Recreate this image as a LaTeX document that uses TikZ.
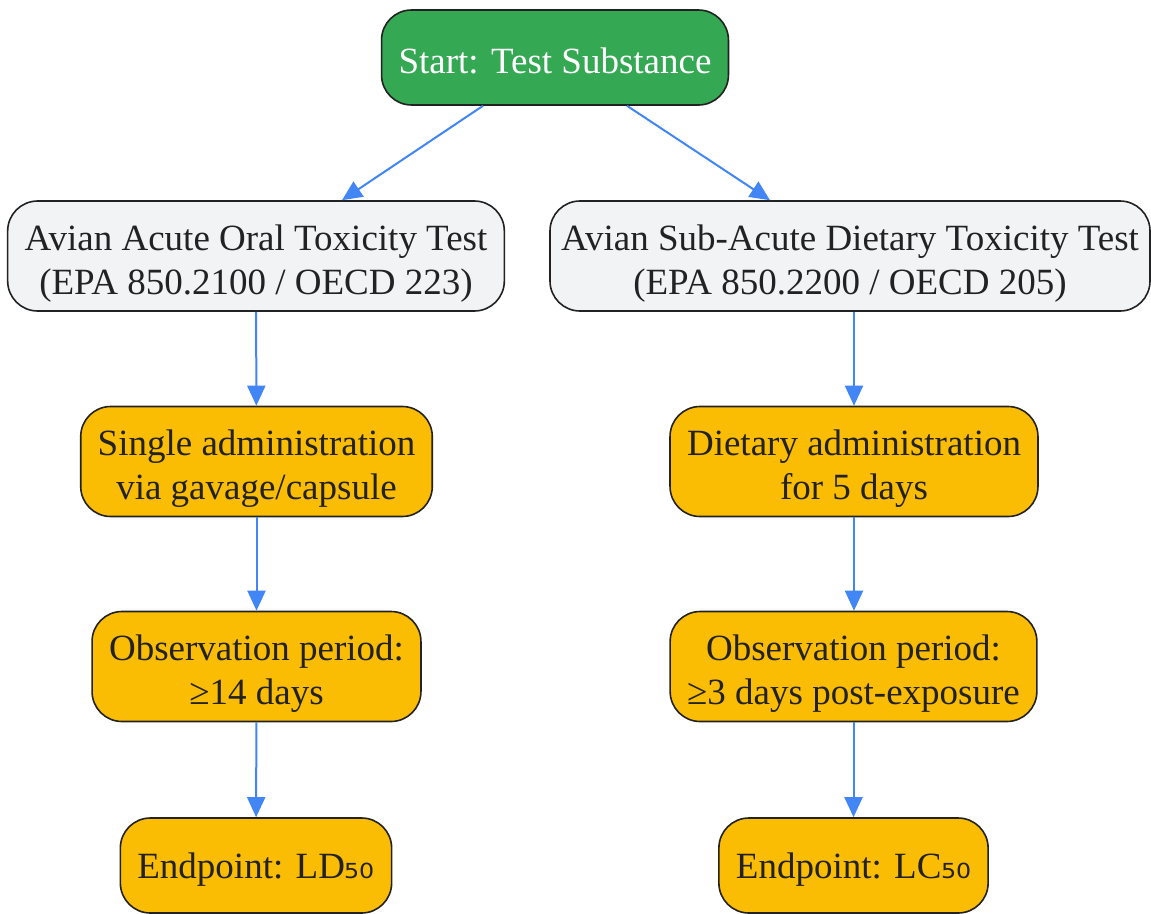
\documentclass[tikz,border=0pt]{standalone}
\usepackage{fontspec}
\setmainfont{Liberation Serif}
\newfontfamily\subfont{DejaVu Sans}
\usetikzlibrary{arrows.meta}
\definecolor{startgreen}{HTML}{34A853}
\definecolor{testgray}{HTML}{F1F3F4}
\definecolor{stepyellow}{HTML}{FBBC04}
\definecolor{arrowblue}{HTML}{4285F4}
\definecolor{textdark}{HTML}{222222}
\newcommand\lowtwo{\rule{0pt}{40pt}}
\newcommand\lowone{\rule{0pt}{33pt}}
\begin{document}
\begin{tikzpicture}[x=1pt, y=-1pt, >={Triangle[length=20pt,width=18pt]},
  font=\fontsize{37}{44}\selectfont,
  box/.style={draw=textdark, line width=1.6pt, rounded corners=30pt, align=center,
    text=textdark, inner xsep=17pt, inner ysep=4pt},
  onebox/.style={box, minimum height=95pt},
  twobox/.style={box, minimum height=110pt},
  flow/.style={->, arrowblue, line width=2pt}]
   %Rahmen
   \useasboundingbox (0,0) rectangle (1151,913);

%Knoten
\node[onebox, fill=startgreen, text=white] (start) at (555,57.5) {\lowone Start: Test Substance};
\node[twobox, fill=testgray] (oral) at (256,256) {\lowtwo Avian Acute Oral Toxicity Test\\(EPA 850.2100 / OECD 223)};
\node[twobox, fill=testgray, minimum width=600pt, inner xsep=8pt] (dietary) at (850,256) {\lowtwo Avian Sub-Acute Dietary Toxicity Test\\(EPA 850.2200 / OECD 205)};

\node[twobox, fill=stepyellow] (single) at (256.5,461.5) {\lowtwo Single administration\\via gavage/capsule};
\node[twobox, fill=stepyellow] (feed) at (854,461.5) {\lowtwo Dietary administration\\for 5 days};

\node[twobox, fill=stepyellow] (obsoral) at (256.5,666.5) {\lowtwo Observation period:\\≥14 days};
\node[twobox, fill=stepyellow] (obsdiet) at (853.5,666.5) {\lowtwo Observation period:\\≥3 days post-exposure};

\node[onebox, fill=stepyellow] (ld) at (256,865.5) {\lowone Endpoint: LD{\subfont ₅₀}};
\node[onebox, fill=stepyellow] (lc) at (853.5,865.5) {\lowone Endpoint: LC{\subfont ₅₀}};

%Pfeile
\draw[flow] ([xshift=-72pt]start.south) -- ([xshift=86pt]oral.north);
\draw[flow] ([xshift=72pt]start.south) -- ([xshift=-80pt]dietary.north);
\draw[flow] (oral) -- (single);
\draw[flow] (single) -- (obsoral);
\draw[flow] (obsoral) -- (ld);
\draw[flow] (dietary.south -| feed) -- (feed);
\draw[flow] (feed) -- (obsdiet.north -| feed);
\draw[flow] (obsdiet) -- (lc.north -| obsdiet);
\end{tikzpicture}
\end{document}
